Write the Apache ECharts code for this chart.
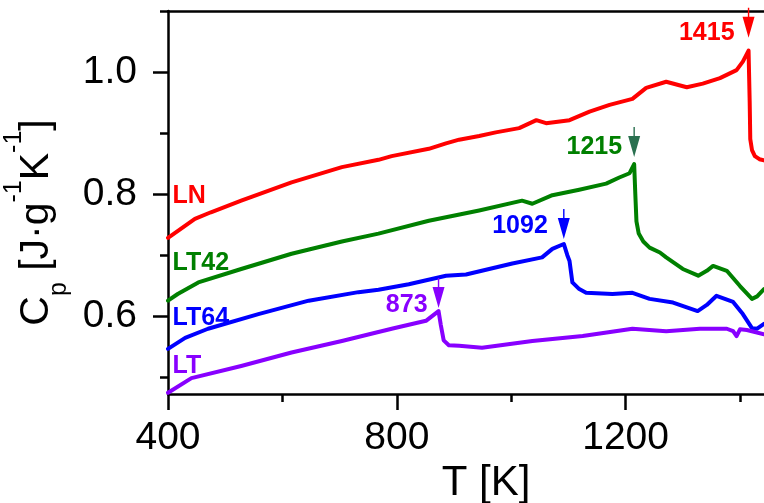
<!DOCTYPE html>
<html>
<head>
<meta charset="utf-8">
<script src="https://cdn.jsdelivr.net/npm/echarts@6/dist/echarts.min.js"></script>
<style>
html,body{margin:0;padding:0;background:#fff;}
#chart{width:764px;height:503px;}
</style>
</head>
<body>
<div id="chart"></div>
<script>
// ---- data ----
const T_LN  = [400, 418, 447, 475, 528, 616, 704, 768, 791, 856, 886, 909, 944, 973, 1014, 1044, 1061, 1102, 1137, 1172, 1212, 1236, 1271, 1307, 1335, 1365, 1394, 1405, 1415, 1417, 1418, 1421, 1426, 1434, 1442];
const CP_LN = [0.728, 0.740, 0.759, 0.770, 0.789, 0.819, 0.844, 0.856, 0.862, 0.874, 0.883, 0.889, 0.895, 0.901, 0.908, 0.921, 0.916, 0.921, 0.935, 0.946, 0.956, 0.974, 0.984, 0.975, 0.981, 0.990, 1.003, 1.017, 1.035, 0.950, 0.890, 0.872, 0.862, 0.857, 0.855];

const T_LT42  = [400, 417, 453, 528, 616, 704, 768, 856, 944, 1019, 1037, 1072, 1119, 1166, 1189, 1207, 1215, 1217, 1219, 1223, 1231, 1242, 1260, 1271, 1300, 1327, 1342, 1353, 1377, 1400, 1421, 1430, 1442];
const CP_LT42 = [0.625, 0.636, 0.655, 0.677, 0.702, 0.722, 0.735, 0.756, 0.773, 0.789, 0.784, 0.798, 0.807, 0.817, 0.827, 0.834, 0.849, 0.800, 0.755, 0.735, 0.722, 0.712, 0.704, 0.696, 0.677, 0.666, 0.674, 0.682, 0.674, 0.649, 0.628, 0.632, 0.644];

const T_LT64  = [400, 430, 470, 558, 646, 733, 768, 821, 886, 921, 1002, 1054, 1072, 1092, 1098, 1102, 1107, 1119, 1131, 1177, 1212, 1242, 1283, 1326, 1342, 1359, 1388, 1405, 1421, 1430, 1442];
const CP_LT64 = [0.546, 0.564, 0.579, 0.603, 0.625, 0.639, 0.643, 0.652, 0.666, 0.668, 0.686, 0.696, 0.710, 0.718, 0.700, 0.690, 0.655, 0.644, 0.638, 0.636, 0.638, 0.628, 0.622, 0.608, 0.618, 0.633, 0.623, 0.603, 0.580, 0.579, 0.587];

const T_LT  = [400, 441, 528, 616, 704, 791, 851, 873, 877, 882, 891, 909, 949, 1037, 1125, 1212, 1271, 1330, 1377, 1388, 1394, 1400, 1412, 1442];
const CP_LT = [0.474, 0.498, 0.518, 0.540, 0.559, 0.579, 0.592, 0.608, 0.585, 0.560, 0.552, 0.551, 0.548, 0.559, 0.567, 0.579, 0.575, 0.579, 0.579, 0.575, 0.567, 0.578, 0.577, 0.570];

const SERIES_NAMES = ['LN', 'LT42', 'LT64', 'LT'];
const PEAK_T   = [1415, 1215, 1092, 873];
const PEAK_CP  = [1.035, 0.849, 0.718, 0.608];
const PEAK_TXT = ['1415', '1215', '1092', '873'];
// name-label anchors [T, Cp]
const NAME_T  = [408, 408, 408, 408];
const NAME_CP = [0.796, 0.687, 0.597, 0.518];

const X_MAJOR = [400, 800, 1200];
const X_MINOR = [600, 1000, 1400];
const Y_MAJOR = [0.6, 0.8, 1.0];
const Y_MINOR = [0.5, 0.7, 0.9, 1.1];

// ---- styles ----
const COLORS = ['#ff0000', '#008000', '#0000ff', '#8800ff'];
const ARROW_COLORS = ['#ff0000', '#2a7050', '#0000ff', '#8800ff'];
const ARROW_GAP = [13, 7, 5, 3];
const LABEL_DY = [10, 5, 2, 12];
const LABEL_DIST = [8, 6, 10, 5];
const FONT = 'Liberation Sans';
const ARROW = 'path://M5.3,0 L6.7,0 L6.7,9 L12,9 L6,30 L0,9 L5.3,9 Z';

const TS = [T_LN, T_LT42, T_LT64, T_LT];
const CPS = [CP_LN, CP_LT42, CP_LT64, CP_LT];

const X_MIN = 400, X_MAX = 1442, Y_MIN = 0.472, Y_MAX = 1.1;
const axisLineStyle = {color: '#000', width: 2.5};

const series = SERIES_NAMES.map((nm, i) => ({
  name: nm,
  type: 'line',
  xAxisIndex: 0,
  yAxisIndex: 0,
  showSymbol: false,
  symbol: 'none',
  z: 3,
  lineStyle: {color: COLORS[i], width: 4, join: 'round', cap: 'round'},
  data: TS[i].map((t, k) => [t, CPS[i][k]]),
  markPoint: {
    silent: true,
    data: [
      {
        coord: [PEAK_T[i], PEAK_CP[i]],
        symbol: ARROW,
        symbolSize: [12, 30],
        symbolKeepAspect: false,
        symbolOffset: [0, -(15 + ARROW_GAP[i])],
        itemStyle: {color: ARROW_COLORS[i]},
        label: {
          show: true, position: 'left', distance: LABEL_DIST[i],
          offset: [0, LABEL_DY[i]],
          formatter: PEAK_TXT[i], color: COLORS[i],
          fontSize: 25, fontWeight: 'bold', fontFamily: FONT
        }
      },
      {
        coord: [NAME_T[i], NAME_CP[i]],
        symbol: 'rect',
        symbolSize: 1,
        itemStyle: {color: 'rgba(0,0,0,0)'},
        label: {
          show: true, position: 'inside', align: 'left', verticalAlign: 'middle',
          formatter: nm, color: COLORS[i],
          fontSize: 25, fontWeight: 'bold', fontFamily: FONT
        }
      }
    ]
  }
}));

const chart = echarts.init(document.getElementById('chart'), null, {renderer: 'canvas'});
chart.setOption({
  animation: false,
  backgroundColor: '#fff',
  grid: {left: 168, right: 0, top: 11, bottom: 109, containLabel: false, outerBoundsMode: 'none'},
  xAxis: [
    {
      type: 'value', min: X_MIN, max: X_MAX, position: 'bottom',
      axisLine: {show: true, lineStyle: axisLineStyle},
      axisTick: {show: true, customValues: X_MAJOR, length: 16, lineStyle: axisLineStyle},
      axisLabel: {show: true, customValues: X_MAJOR, fontSize: 39, color: '#000', fontFamily: FONT, margin: 25,
        formatter: v => String(v)},
      splitLine: {show: false},
      name: 'T [K]', nameLocation: 'middle', nameGap: 60,
      nameTextStyle: {fontSize: 42, color: '#000', fontFamily: FONT, padding: [0, 0, 0, 40]}
    },
    {
      type: 'value', min: X_MIN, max: X_MAX, position: 'bottom',
      axisLine: {show: false},
      axisTick: {show: true, customValues: X_MINOR, length: 8, lineStyle: axisLineStyle},
      axisLabel: {show: false},
      splitLine: {show: false}
    },
    {
      type: 'value', min: X_MIN, max: X_MAX, position: 'top',
      axisLine: {show: true, lineStyle: axisLineStyle},
      axisTick: {show: false}, axisLabel: {show: false}, splitLine: {show: false}
    }
  ],
  yAxis: [
    {
      type: 'value', min: Y_MIN, max: Y_MAX, position: 'left',
      axisLine: {show: true, lineStyle: axisLineStyle},
      axisTick: {show: true, customValues: Y_MAJOR, length: 15, lineStyle: axisLineStyle},
      axisLabel: {show: true, customValues: Y_MAJOR, fontSize: 39, color: '#000', fontFamily: FONT, margin: 31,
        formatter: v => v.toFixed(1)},
      splitLine: {show: false},
      name: '{a|C}{sub|p}{a| [J·g}{sup|-1}{a|K}{sup|-1}{a|]}',
      nameLocation: 'middle', nameRotate: 90, nameGap: 94,
      nameTextStyle: {
        color: '#000', fontFamily: FONT, padding: [0, 40, 0, 0],
        rich: {
          a: {fontSize: 41, lineHeight: 70, fontFamily: FONT, color: '#000', verticalAlign: 'middle'},
          sub: {fontSize: 25, lineHeight: 24, fontFamily: FONT, color: '#000', verticalAlign: 'bottom'},
          sup: {fontSize: 25, lineHeight: 52, fontFamily: FONT, color: '#000', verticalAlign: 'top'}
        }
      }
    },
    {
      type: 'value', min: Y_MIN, max: Y_MAX, position: 'left',
      axisLine: {show: false},
      axisTick: {show: true, customValues: Y_MINOR, length: 8, lineStyle: axisLineStyle},
      axisLabel: {show: false},
      splitLine: {show: false}
    }
  ],
  series: series
});
</script>
</body>
</html>
